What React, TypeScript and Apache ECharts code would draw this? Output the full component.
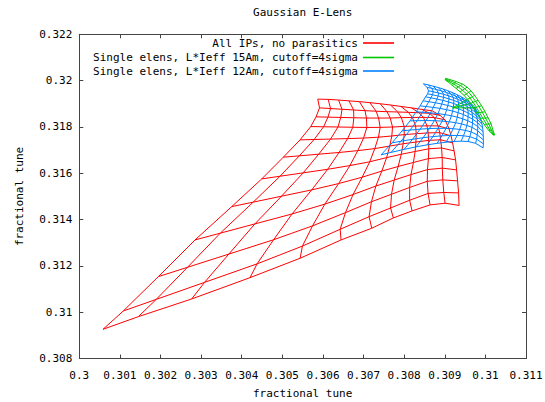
import React, { useEffect, useRef } from "react";
import * as echarts from "echarts";

// ---- data (fractional tunes, [Qx, Qy]) ----
const chartTitle = "Gaussian E-Lens";
const axisTitle = "fractional tune";
const seriesNames = [
  "All IPs, no parasitics",
  "Single elens, L*Ieff 15Am, cutoff=4sigma",
  "Single elens, L*Ieff 12Am, cutoff=4sigma",
];
const seriesColors = ["#ff0000", "#00c800", "#0080ff"];
const xRange = [0.3, 0.311, 0.001];
const yRange = [0.308, 0.322, 0.002];

// red footprint: rows of grid nodes
const redRows: number[][][] = [
  [[0.300584,0.309266],[0.301453,0.309810],[0.302768,0.310575],[0.304204,0.311495],[0.305438,0.312333],[0.306446,0.313123],[0.307202,0.313629],[0.307734,0.314073],[0.308195,0.314376],[0.308638,0.314635],[0.309007,0.314708],[0.309352,0.314613]],
  [[0.301084,0.310056],[0.301895,0.310557],[0.303084,0.311291],[0.304378,0.312090],[0.305494,0.312857],[0.306423,0.313582],[0.307136,0.314127],[0.307665,0.314502],[0.308134,0.314836],[0.308588,0.315129],[0.308975,0.315171],[0.309340,0.315153]],
  [[0.301946,0.311538],[0.302664,0.311941],[0.303682,0.312512],[0.304783,0.313130],[0.305743,0.313730],[0.306555,0.314303],[0.307194,0.314771],[0.307688,0.315095],[0.308135,0.315389],[0.308569,0.315654],[0.308951,0.315715],[0.309315,0.315672]],
  [[0.302850,0.313123],[0.303472,0.313415],[0.304324,0.313815],[0.305240,0.314245],[0.306047,0.314669],[0.306741,0.315083],[0.307303,0.315449],[0.307754,0.315708],[0.308168,0.315943],[0.308574,0.316160],[0.308939,0.316221],[0.309291,0.316147]],
  [[0.303754,0.314562],[0.304282,0.314755],[0.304979,0.315010],[0.305722,0.315282],[0.306385,0.315556],[0.306966,0.315831],[0.307449,0.316094],[0.307852,0.316294],[0.308227,0.316468],[0.308597,0.316634],[0.308936,0.316682],[0.309266,0.316579]],
  [[0.304493,0.315758],[0.304943,0.315873],[0.305514,0.316019],[0.306117,0.316173],[0.306664,0.316333],[0.307152,0.316497],[0.307569,0.316677],[0.307929,0.316822],[0.308270,0.316941],[0.308606,0.317058],[0.308921,0.317092],[0.309229,0.316968]],
  [[0.305025,0.316695],[0.305418,0.316753],[0.305895,0.316824],[0.306396,0.316898],[0.306857,0.316978],[0.307276,0.317066],[0.307644,0.317175],[0.307974,0.317275],[0.308289,0.317348],[0.308602,0.317421],[0.308899,0.317446],[0.309192,0.317313]],
  [[0.305436,0.317443],[0.305783,0.317459],[0.306188,0.317478],[0.306607,0.317497],[0.307001,0.317520],[0.307366,0.317558],[0.307696,0.317611],[0.308001,0.317669],[0.308297,0.317708],[0.308591,0.317744],[0.308875,0.317754],[0.309155,0.317616]],
  [[0.305700,0.318017],[0.306016,0.318008],[0.306370,0.317998],[0.306735,0.317987],[0.307081,0.317978],[0.307409,0.317983],[0.307713,0.317998],[0.308000,0.318024],[0.308282,0.318038],[0.308562,0.318048],[0.308835,0.318045],[0.309106,0.317918]],
  [[0.305830,0.318436],[0.306123,0.318424],[0.306438,0.318411],[0.306760,0.318398],[0.307071,0.318386],[0.307370,0.318383],[0.307655,0.318387],[0.307930,0.318402],[0.308202,0.318410],[0.308474,0.318413],[0.308741,0.318408],[0.309007,0.318307]],
  [[0.305916,0.318825],[0.306188,0.318795],[0.306470,0.318765],[0.306755,0.318733],[0.307036,0.318703],[0.307311,0.318679],[0.307577,0.318658],[0.307841,0.318647],[0.308103,0.318632],[0.308365,0.318613],[0.308625,0.318589],[0.308884,0.318501]],
  [[0.305872,0.319201],[0.306128,0.319192],[0.306384,0.319162],[0.306640,0.319127],[0.306897,0.319093],[0.307153,0.319050],[0.307409,0.319002],[0.307665,0.318946],[0.307921,0.318886],[0.308177,0.318825],[0.308433,0.318760],[0.308690,0.318696]],
];

// blue footprint (12 Am)
const blueRows: number[][][] = [
  [[0.307431,0.316795],[0.307677,0.316903],[0.307998,0.317032],[0.308293,0.317141],[0.308564,0.317227],[0.308811,0.317292],[0.309032,0.317343],[0.309229,0.317374],[0.309402,0.317387],[0.309574,0.317374],[0.309759,0.317292],[0.309944,0.317097]],
  [[0.307702,0.317313],[0.307922,0.317384],[0.308206,0.317468],[0.308467,0.317536],[0.308709,0.317584],[0.308930,0.317616],[0.309127,0.317634],[0.309304,0.317634],[0.309461,0.317619],[0.309616,0.317581],[0.309784,0.317476],[0.309951,0.317270]],
  [[0.307948,0.317832],[0.308143,0.317866],[0.308392,0.317905],[0.308621,0.317932],[0.308835,0.317941],[0.309031,0.317939],[0.309207,0.317924],[0.309366,0.317893],[0.309509,0.317850],[0.309648,0.317786],[0.309800,0.317660],[0.309951,0.317443]],
  [[0.308146,0.318264],[0.308321,0.318271],[0.308539,0.318275],[0.308744,0.318271],[0.308936,0.318251],[0.309110,0.318223],[0.309268,0.318183],[0.309414,0.318130],[0.309544,0.318065],[0.309671,0.317983],[0.309809,0.317840],[0.309948,0.317616]],
  [[0.308293,0.318652],[0.308452,0.318634],[0.308648,0.318609],[0.308831,0.318578],[0.309005,0.318533],[0.309164,0.318483],[0.309309,0.318423],[0.309443,0.318350],[0.309567,0.318266],[0.309685,0.318169],[0.309814,0.318014],[0.309944,0.317788]],
  [[0.308392,0.318911],[0.308539,0.318881],[0.308717,0.318844],[0.308886,0.318800],[0.309046,0.318745],[0.309193,0.318686],[0.309328,0.318616],[0.309456,0.318535],[0.309574,0.318444],[0.309684,0.318340],[0.309808,0.318183],[0.309931,0.317961]],
  [[0.308466,0.319128],[0.308605,0.319092],[0.308769,0.319043],[0.308926,0.318990],[0.309076,0.318927],[0.309213,0.318860],[0.309342,0.318783],[0.309463,0.318696],[0.309577,0.318600],[0.309683,0.318490],[0.309801,0.318331],[0.309919,0.318112]],
  [[0.308527,0.319300],[0.308657,0.319259],[0.308807,0.319205],[0.308953,0.319148],[0.309093,0.319081],[0.309220,0.319011],[0.309341,0.318931],[0.309456,0.318843],[0.309566,0.318744],[0.309668,0.318634],[0.309781,0.318476],[0.309894,0.318264]],
  [[0.308577,0.319430],[0.308699,0.319389],[0.308837,0.319335],[0.308972,0.319279],[0.309104,0.319211],[0.309223,0.319143],[0.309337,0.319064],[0.309449,0.318976],[0.309555,0.318879],[0.309652,0.318771],[0.309762,0.318617],[0.309870,0.318415]],
  [[0.308601,0.319560],[0.308717,0.319519],[0.308845,0.319465],[0.308971,0.319410],[0.309096,0.319343],[0.309208,0.319274],[0.309317,0.319196],[0.309423,0.319110],[0.309528,0.319014],[0.309621,0.318908],[0.309728,0.318758],[0.309833,0.318566]],
  [[0.308564,0.319711],[0.308678,0.319668],[0.308801,0.319611],[0.308923,0.319554],[0.309044,0.319485],[0.309154,0.319416],[0.309263,0.319337],[0.309369,0.319249],[0.309475,0.319152],[0.309569,0.319047],[0.309676,0.318900],[0.309783,0.318717]],
  [[0.308473,0.319862],[0.308589,0.319819],[0.308712,0.319762],[0.308835,0.319706],[0.308958,0.319637],[0.309069,0.319568],[0.309180,0.319490],[0.309291,0.319404],[0.309402,0.319309],[0.309500,0.319205],[0.309611,0.319063],[0.309722,0.318890]],
];

// green footprint (15 Am): rows along the crescent
const greenRows: number[][][] = [
  [[0.309007,0.320035],[0.309094,0.319927],[0.309180,0.319797],[0.309278,0.319667],[0.309377,0.319516],[0.309475,0.319365],[0.309562,0.319192],[0.309635,0.319019],[0.309709,0.318825],[0.309783,0.318609],[0.309869,0.318372],[0.309968,0.318112],[0.310079,0.317853],[0.310202,0.317637]],
  [[0.309012,0.320056],[0.309106,0.319965],[0.309214,0.319850],[0.309332,0.319728],[0.309435,0.319584],[0.309533,0.319430],[0.309620,0.319250],[0.309698,0.319063],[0.309775,0.318854],[0.309854,0.318623],[0.309936,0.318379],[0.310026,0.318120],[0.310113,0.317860],[0.310210,0.317645]],
  [[0.309016,0.320078],[0.309118,0.320004],[0.309249,0.319904],[0.309385,0.319788],[0.309492,0.319651],[0.309590,0.319495],[0.309676,0.319308],[0.309759,0.319106],[0.309841,0.318883],[0.309923,0.318638],[0.310001,0.318386],[0.310083,0.318127],[0.310148,0.317867],[0.310219,0.317652]],
  [[0.309020,0.320099],[0.309131,0.320043],[0.309284,0.319957],[0.309439,0.319849],[0.309550,0.319719],[0.309648,0.319559],[0.309734,0.319365],[0.309821,0.319149],[0.309907,0.318911],[0.309993,0.318652],[0.310067,0.318393],[0.310141,0.318134],[0.310183,0.317875],[0.310227,0.317659]],
];
const greenStrand: number[][][] = [
  [[0.309192,0.318825],[0.309562,0.319192]],
  [[0.309192,0.318825],[0.309635,0.319019]],
  [[0.309192,0.318825],[0.309709,0.318825]],
];

// ---- helpers ----
const columnsOf = (rows: number[][][]) => rows[0].map((_, j) => rows.map((r) => r[j]));
const meshLines = (rows: number[][][]) => [...rows, ...columnsOf(rows)].map((c) => ({ coords: c }));

const FONT = "DejaVu Sans Mono";
const fmt = (v: number) => String(+v.toFixed(3));

export default function App() {
  const ref = useRef<HTMLDivElement>(null);
  useEffect(() => {
    if (!ref.current) return;
    const chart = echarts.init(ref.current, undefined, { renderer: "svg" });
    const axisLine = { show: true, lineStyle: { color: "#444", width: 1 } };
    const tick = { show: true, inside: true, length: 4, lineStyle: { color: "#444" } };
    const lbl = { fontFamily: FONT, fontSize: 11, color: "#000" };
    const mkSeries = (name: string, color: string, data: any[], z: number) => ({
      type: "lines",
      name,
      coordinateSystem: "cartesian2d",
      polyline: true,
      silent: true,
      z,
      itemStyle: { color },
      lineStyle: { color, width: 1, opacity: 1 },
      data,
    });
    const legendTops = [37.5, 52, 65.5];
    chart.setOption({
      animation: false,
      backgroundColor: "#fff",
      title: {
        text: chartTitle,
        left: 302.7,
        textAlign: "center",
        top: 7,
        padding: 0,
        textStyle: { ...lbl, fontWeight: "normal" },
      },
      legend: seriesNames.map((n, k) => ({
        data: [
          {
            name: n,
            icon: "rect",
            itemStyle: { color: seriesColors[k], borderWidth: 0, borderColor: "transparent" },
            lineStyle: { width: 0 },
          },
        ],
        right: 151,
        top: legendTops[k],
        padding: 0,
        align: "right",
        itemWidth: 31,
        itemHeight: 1.6,
        selectedMode: false,
        textStyle: lbl,
      })),
      grid: { left: 79.3, right: 19, top: 34.3, bottom: 43.4, outerBoundsMode: "none", containLabel: false },
      xAxis: [
        {
          type: "value", min: xRange[0], max: xRange[1], interval: xRange[2], position: "bottom",
          axisLine, axisTick: tick, splitLine: { show: false },
          axisLabel: { ...lbl, margin: 11, formatter: fmt },
          name: axisTitle, nameLocation: "middle", nameGap: 29, nameTextStyle: lbl,
        },
        {
          type: "value", min: xRange[0], max: xRange[1], interval: xRange[2], position: "top",
          axisLine, axisTick: tick, splitLine: { show: false }, axisLabel: { show: false },
        },
      ],
      yAxis: [
        {
          type: "value", min: yRange[0], max: yRange[1], interval: yRange[2], position: "left",
          axisLine, axisTick: tick, splitLine: { show: false },
          axisLabel: { ...lbl, margin: 7, formatter: fmt },
          name: axisTitle, nameLocation: "middle", nameGap: 54, nameRotate: 90, nameTextStyle: lbl,
        },
        {
          type: "value", min: yRange[0], max: yRange[1], interval: yRange[2], position: "right",
          axisLine, axisTick: tick, splitLine: { show: false }, axisLabel: { show: false },
        },
      ],
      series: [
        mkSeries(seriesNames[0], seriesColors[0], meshLines(redRows), 2),
        mkSeries(seriesNames[1], seriesColors[1], [...meshLines(greenRows), ...greenStrand.map((c) => ({ coords: c }))], 4),
        mkSeries(seriesNames[2], seriesColors[2], meshLines(blueRows), 3),
      ],
    });
    return () => chart.dispose();
  }, []);
  return (
    <div
      ref={ref}
      style={{ position: "absolute", left: 0, top: 0, width: 545, height: 402, background: "#fff" }}
    />
  );
}
